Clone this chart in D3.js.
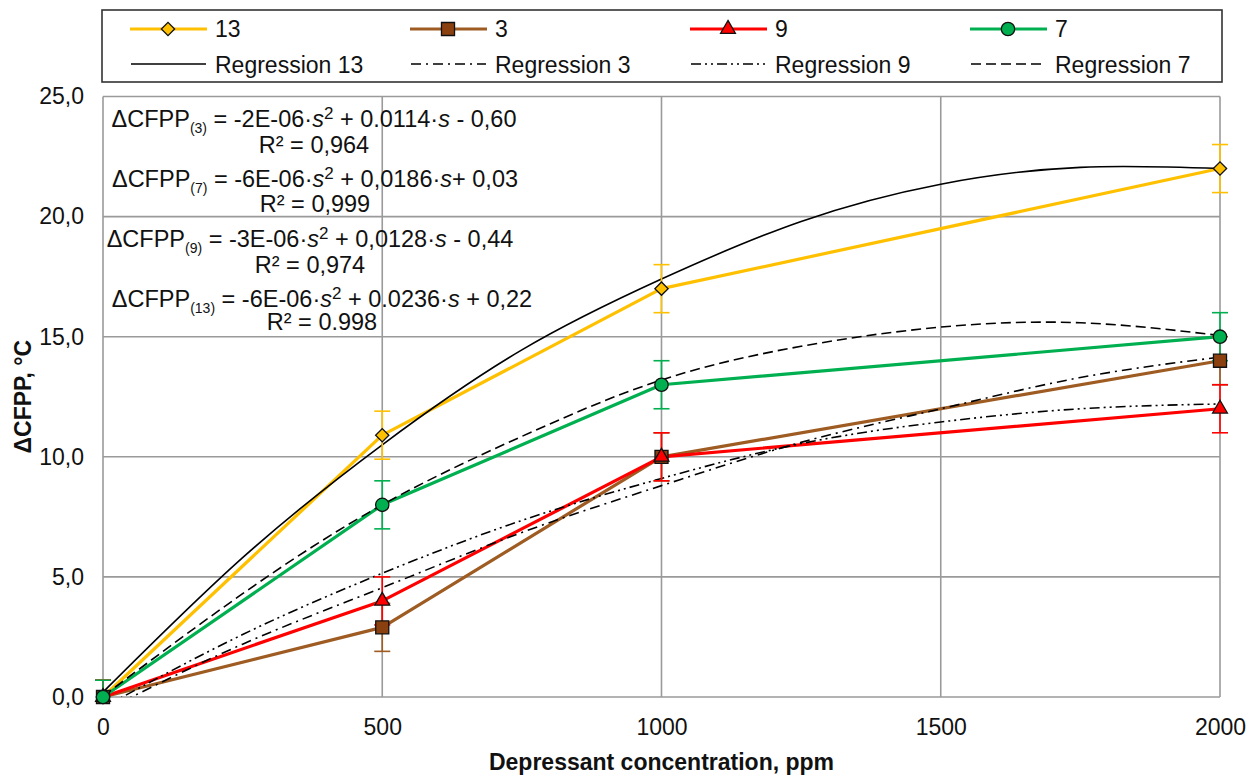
<!DOCTYPE html>
<html>
<head>
<meta charset="utf-8">
<script src="https://cdn.jsdelivr.net/npm/d3@7"></script>
<style>
    body { margin: 0; background: #fff; }
    text { font-family: Arial, "Liberation Sans", sans-serif; fill: #111; }
</style>
</head>
<body>
<div id="chart"></div>
<script>

// ---- data ----
const concentrations = [0, 500, 1000, 2000];
const values13 = [0, 10.9, 17, 22];
const values3 = [0, 2.9, 10, 14];
const values9 = [0, 4, 10, 12];
const values7 = [0, 8, 13, 15];
const errors = [0.7, 1, 1, 1];

// regression curves, sampled along the drawn trendlines
const regConc = [0, 250, 500, 750, 1000, 1250, 1500, 1750, 2000];
const reg13 = [0.2, 5.8, 10.5, 14.45, 17.4, 19.8, 21.35, 22.05, 22.0];
const reg3 = [-0.6, 2.2, 4.55, 6.85, 8.8, 10.6, 12.0, 13.3, 14.15];
const reg9 = [-0.44, 2.6, 5.15, 7.35, 9.1, 10.55, 11.45, 12.0, 12.2];
const reg7 = [0.03, 4.3, 8.0, 10.85, 13.2, 14.6, 15.4, 15.58, 15.05];

const yTicks = [0, 5, 10, 15, 20, 25];
const xTicks = [0, 500, 1000, 1500, 2000];

const seriesNames = ["13", "3", "9", "7"];
const regNames = ["Regression 13", "Regression 3", "Regression 9", "Regression 7"];

const equations = [
    { sub: "(3)", a: "-2E-06", b: "0.0114", sign: " - ", c: "0,60", r2: "0,964", bSep: " + " },
    { sub: "(7)", a: "-6E-06", b: "0,0186", sign: "+ ", c: "0,03", r2: "0,999", bSep: " + " },
    { sub: "(9)", a: "-3E-06", b: "0,0128", sign: " - ", c: "0,44", r2: "0,974", bSep: " + " },
    { sub: "(13)", a: "-6E-06", b: "0.0236", sign: " + ", c: "0,22", r2: "0.998", bSep: " + " }
];

// ---- styles ----
const series = [
    { name: seriesNames[0], values: values13, color: "#FFC000", fill: "#FFC000", shape: "diamond" },
    { name: seriesNames[1], values: values3, color: "#9E5B22", fill: "#8B4010", shape: "square" },
    { name: seriesNames[2], values: values9, color: "#FF0000", fill: "#FF0000", shape: "triangle" },
    { name: seriesNames[3], values: values7, color: "#00B050", fill: "#00B050", shape: "circle" }
];
const regressions = [
    { name: regNames[0], values: reg13, dash: null },
    { name: regNames[1], values: reg3, dash: "10,5,2,5" },
    { name: regNames[2], values: reg9, dash: "10,4,2,4,2,4" },
    { name: regNames[3], values: reg7, dash: "10,5" }
];

const width = 1260;
const height = 776;

let svg = d3.select("#chart").append("svg")
    .attr("width", width)
    .attr("height", height);

let x = d3.scaleLinear().domain([0, 2000]).range([103, 1220]);
let y = d3.scaleLinear().domain([0, 25]).range([697, 96.5]);

// clip for the trendlines
svg.append("clipPath").attr("id", "plotClip")
    .append("rect")
    .attr("x", x(0)).attr("y", y(25))
    .attr("width", x(2000) - x(0)).attr("height", y(0) - y(25));

// ---- grid ----
let grid = svg.append("g");
grid.selectAll(".hgrid").data(yTicks).enter().append("line")
    .attr("x1", x(0)).attr("x2", x(2000))
    .attr("y1", d => y(d)).attr("y2", d => y(d))
    .attr("stroke", "#9a9a9a").attr("stroke-width", 1.6);
grid.selectAll(".vgrid").data(xTicks).enter().append("line")
    .attr("x1", d => x(d)).attr("x2", d => x(d))
    .attr("y1", y(0)).attr("y2", y(25))
    .attr("stroke", "#9a9a9a").attr("stroke-width", 1.6);

// ---- axes ----
let yAxis = svg.append("g")
    .attr("transform", `translate(${x(0)},0)`)
    .call(d3.axisLeft(y).tickValues(yTicks).tickSize(0).tickPadding(19)
        .tickFormat(d => d.toFixed(1).replace(".", ",")));
yAxis.select(".domain").remove();
yAxis.selectAll("text").style("font-size", "23px").style("font-family", "Arial, 'Liberation Sans', sans-serif").attr("fill", "#111");

let xAxis = svg.append("g")
    .attr("transform", `translate(0,${y(0)})`)
    .call(d3.axisBottom(x).tickValues(xTicks).tickSize(0).tickPadding(22).tickFormat(d3.format("d")));
xAxis.select(".domain").remove();
xAxis.selectAll("text").style("font-size", "23px").style("font-family", "Arial, 'Liberation Sans', sans-serif").attr("fill", "#111");

svg.append("text")
    .attr("x", (x(0) + x(2000)) / 2)
    .attr("y", 770)
    .attr("text-anchor", "middle")
    .style("font-size", "23px").style("font-weight", "bold")
    .text("Depressant concentration, ppm");

svg.append("text")
    .attr("transform", `translate(31,${(y(0) + y(25)) / 2}) rotate(-90)`)
    .attr("text-anchor", "middle")
    .style("font-size", "23px").style("font-weight", "bold")
    .text("ΔCFPP, °C");

// ---- series lines ----
let line = d3.line()
    .x((d, i) => x(concentrations[i]))
    .y(d => y(d));

svg.append("g").selectAll("path").data(series).enter().append("path")
    .attr("d", d => line(d.values))
    .attr("fill", "none")
    .attr("stroke", d => d.color)
    .attr("stroke-width", 3.2)
    .attr("stroke-linejoin", "round");

// ---- regression curves ----
let regLine = d3.line()
    .x((d, i) => x(regConc[i]))
    .y(d => y(d))
    .curve(d3.curveNatural);

svg.append("g").attr("clip-path", "url(#plotClip)")
    .selectAll("path").data(regressions).enter().append("path")
    .attr("d", d => regLine(d.values))
    .attr("fill", "none")
    .attr("stroke", "#000")
    .attr("stroke-width", 1.6)
    .attr("stroke-dasharray", d => d.dash);

// ---- error bars (cut at the axis, as in the original) ----
series.forEach(s => {
    let g = svg.append("g").attr("stroke", s.color).attr("stroke-width", 1.6);
    s.values.forEach((v, i) => {
        let cx = x(concentrations[i]);
        let e = errors[i];
        let lo = Math.max(0, v - e);
        g.append("line").attr("x1", cx).attr("x2", cx).attr("y1", y(lo)).attr("y2", y(v + e));
        if (v - e >= 0) {
            g.append("line").attr("x1", cx - 8).attr("x2", cx + 8).attr("y1", y(v - e)).attr("y2", y(v - e));
        }
        g.append("line").attr("x1", cx - 8).attr("x2", cx + 8).attr("y1", y(v + e)).attr("y2", y(v + e));
    });
});

// ---- markers ----
function markerPath(shape) {
    if (shape === "diamond") return d3.symbol(d3.symbolSquare, 88)();
    if (shape === "square") return d3.symbol(d3.symbolSquare, 170)();
    if (shape === "triangle") return d3.symbol(d3.symbolTriangle, 95)();
    return d3.symbol(d3.symbolCircle, 140)();
}

series.forEach(s => {
    svg.append("g").selectAll("path").data(s.values).enter().append("path")
        .attr("d", markerPath(s.shape))
        .attr("transform", (d, i) => `translate(${x(concentrations[i])},${y(d)})` + (s.shape === "diamond" ? " rotate(45)" : ""))
        .attr("fill", s.fill)
        .attr("stroke", "#111")
        .attr("stroke-width", 1.3);
});

// ---- regression equations ----
const eqCenters = [314, 315, 310, 322];
const eqBaselines = [126.7, 186.7, 246.7, 306.7];
const r2Baselines = [153, 211.5, 273, 330];

equations.forEach((eq, i) => {
    let t = svg.append("text")
        .attr("x", eqCenters[i])
        .attr("y", eqBaselines[i])
        .attr("text-anchor", "middle")
        .style("font-size", "23.5px");
    t.append("tspan").text("ΔCFPP");
    t.append("tspan").attr("dy", 6).style("font-size", "14px").text(eq.sub);
    t.append("tspan").attr("dy", -6).text(" = " + eq.a + "·");
    t.append("tspan").style("font-style", "italic").text("s");
    t.append("tspan").attr("dy", -8).style("font-size", "17px").text("2");
    t.append("tspan").attr("dy", 8).text(eq.bSep + eq.b + "·");
    t.append("tspan").style("font-style", "italic").text("s");
    t.append("tspan").text(eq.sign + eq.c);

    svg.append("text")
        .attr("x", eqCenters[i])
        .attr("y", r2Baselines[i])
        .attr("text-anchor", "middle")
        .style("font-size", "23.5px")
        .text("R² = " + eq.r2);
});

// ---- legend ----
let legend = svg.append("g");
legend.append("rect")
    .attr("x", 102).attr("y", 10)
    .attr("width", 1120).attr("height", 72)
    .attr("fill", "#fff")
    .attr("stroke", "#333")
    .attr("stroke-width", 1.6);

const colX = [130, 410, 690, 970];

series.forEach((s, i) => {
    let g = legend.append("g").attr("transform", `translate(${colX[i]},29)`);
    g.append("line").attr("x1", 0).attr("x2", 77).attr("y1", 0).attr("y2", 0)
        .attr("stroke", s.color).attr("stroke-width", 3.2);
    g.append("path")
        .attr("d", markerPath(s.shape))
        .attr("transform", "translate(38,0)" + (s.shape === "diamond" ? " rotate(45)" : ""))
        .attr("fill", s.fill).attr("stroke", "#111").attr("stroke-width", 1.3);
    g.append("text").attr("x", 85).attr("y", 8.3)
        .style("font-size", "23px").text(s.name);
});

regressions.forEach((r, i) => {
    let g = legend.append("g").attr("transform", `translate(${colX[i]},64)`);
    g.append("line").attr("x1", 1).attr("x2", 76).attr("y1", 0).attr("y2", 0)
        .attr("stroke", "#000").attr("stroke-width", 1.6)
        .attr("stroke-dasharray", r.dash);
    g.append("text").attr("x", 85).attr("y", 8.7)
        .style("font-size", "23px").text(r.name);
});

</script>
</body>
</html>
